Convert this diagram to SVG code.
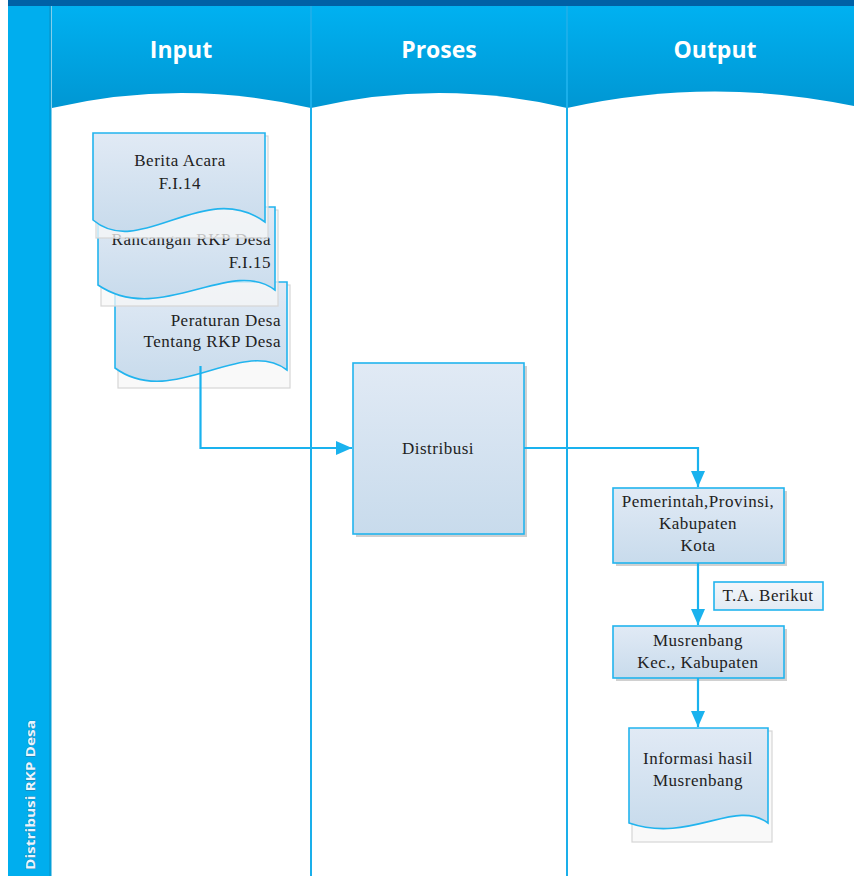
<svg xmlns="http://www.w3.org/2000/svg" width="854" height="876" viewBox="0 0 854 876">
  <defs>
    <linearGradient id="hdr" x1="0" y1="0" x2="0" y2="1">
      <stop offset="0" stop-color="#00b1f1"/>
      <stop offset="1" stop-color="#0096d2"/>
    </linearGradient>
    <linearGradient id="fill" x1="0" y1="0" x2="0" y2="1">
      <stop offset="0" stop-color="#e1eaf5"/>
      <stop offset="1" stop-color="#c8dbec"/>
    </linearGradient>
    <linearGradient id="lbl" x1="0" y1="0" x2="0" y2="1">
      <stop offset="0" stop-color="#f3f6fa"/>
      <stop offset="1" stop-color="#e2ebf4"/>
    </linearGradient>
    <marker id="arr" markerUnits="userSpaceOnUse" markerWidth="16" markerHeight="16" viewBox="0 0 16 16" refX="16" refY="8" orient="auto">
      <path d="M0,1 L16,8 L0,15 Z" fill="#1ab2ee"/>
    </marker>
  </defs>
  <style>
    .shape{fill:url(#fill);stroke:#22b4ee;stroke-width:1.6}
    .shadow{fill:#f7f7f7;fill-opacity:0.75;stroke:#d6d6d6;stroke-width:1.2}
    .t{font-family:"Liberation Serif","Times New Roman",serif;font-size:17px;letter-spacing:0.5px;fill:#222}
    .h{font-family:"Open Sans","DejaVu Sans",sans-serif;font-size:23px;font-weight:bold;fill:#ffffff;text-anchor:middle}
    .c{fill:none;stroke:#1ab2ee;stroke-width:2.2}
  </style>

  <!-- background / swimlanes -->
  <rect x="0" y="0" width="854" height="876" fill="#ffffff"/>
  <g id="lanes">
    <rect x="8" y="0" width="846" height="6" fill="#0061a6"/>
    <rect x="8" y="6" width="43" height="870" fill="#00aeee"/>
    <rect x="49" y="6" width="2.5" height="870" fill="#049fd9"/>
    <rect x="52" y="6" width="802" height="104" fill="url(#hdr)"/>
    <path d="M52,111 L52,108 Q181,78 311,108 L311,111 Z" fill="#ffffff"/>
    <path d="M311,111 L311,108 Q439,78 567,108 L567,111 Z" fill="#ffffff"/>
    <path d="M567,111 L567,108 Q715,75 863,108 L863,111 Z" fill="#ffffff"/>
    <rect x="52" y="110" width="802" height="766" fill="#ffffff"/>
    <line x1="311" y1="6" x2="311" y2="876" stroke="#1aafea" stroke-width="2"/>
    <line x1="567" y1="6" x2="567" y2="876" stroke="#1aafea" stroke-width="2"/>
    <text class="h" x="181" y="58">Input</text>
    <text class="h" x="439" y="58">Proses</text>
    <text class="h" x="715" y="58">Output</text>
    <text transform="translate(35,870) rotate(-90)" textLength="150" lengthAdjust="spacingAndGlyphs" font-family="Open Sans, DejaVu Sans, sans-serif" font-size="13" font-weight="bold" fill="#e8f6ff" stroke="#2a6f9c" stroke-width="0.5" paint-order="stroke">Distribusi RKP Desa</text>
  </g>

  <!-- Documents in Input lane -->
  <g id="doc-peraturan">
    <rect class="shadow" x="118" y="285" width="172" height="103"/>
    <path class="shape" d="M115,282 H287 V370 C242,336 172,410 115,368 Z"/>
    <text class="t" x="281" y="326" text-anchor="end">Peraturan Desa</text>
    <text class="t" x="281" y="347" text-anchor="end">Tentang RKP Desa</text>
  </g>

  <g id="doc-rancangan">
    <rect class="shadow" x="101" y="210" width="177" height="96"/>
    <path class="shape" d="M98,207 H275 V290 C230,256 160,327 98,285 Z"/>
    <text class="t" x="271" y="245" text-anchor="end">Rancangan RKP Desa</text>
    <text class="t" x="271" y="268" text-anchor="end">F.I.15</text>
  </g>

  <g id="doc-berita">
    <rect class="shadow" x="96" y="136" width="172" height="102"/>
    <path class="shape" d="M93,133 H265 V222 C205,178 140,260 93,220 Z"/>
    <text class="t" x="180" y="166" text-anchor="middle">Berita Acara</text>
    <text class="t" x="180" y="189" text-anchor="middle">F.I.14</text>
  </g>

  <!-- Proses -->
  <g id="distribusi">
    <rect x="356" y="366" width="171" height="171" fill="#d0d0d0"/>
    <rect class="shape" x="353" y="363" width="171" height="171"/>
    <text class="t" x="438" y="454" text-anchor="middle">Distribusi</text>
  </g>

  <!-- Output -->
  <g id="pemerintah">
    <rect x="616" y="491" width="171" height="75" fill="#d0d0d0"/>
    <rect class="shape" x="613" y="488" width="171" height="75"/>
    <text class="t" x="698" y="507" text-anchor="middle">Pemerintah,Provinsi,</text>
    <text class="t" x="698" y="529" text-anchor="middle">Kabupaten</text>
    <text class="t" x="698" y="551" text-anchor="middle">Kota</text>
  </g>

  <g id="ta-berikut">
    <rect x="714" y="582" width="109" height="28" fill="url(#lbl)" stroke="#22b4ee" stroke-width="1.6"/>
    <text class="t" x="768" y="601" text-anchor="middle">T.A. Berikut</text>
  </g>

  <g id="musrenbang">
    <rect x="616" y="629" width="171" height="52" fill="#d0d0d0"/>
    <rect class="shape" x="613" y="626" width="171" height="52"/>
    <text class="t" x="698" y="646" text-anchor="middle">Musrenbang</text>
    <text class="t" x="698" y="668" text-anchor="middle">Kec., Kabupaten</text>
  </g>

  <g id="informasi">
    <rect class="shadow" x="632" y="731" width="140" height="111"/>
    <path class="shape" d="M629,728 H768 V823 C735,798 690,844 629,823 Z"/>
    <text class="t" x="698" y="764" text-anchor="middle">Informasi hasil</text>
    <text class="t" x="698" y="786" text-anchor="middle">Musrenbang</text>
  </g>

  <!-- connectors -->
  <g id="connectors">
    <path class="c" d="M200.5,366 V448 H352" marker-end="url(#arr)"/>
    <path class="c" d="M524,448 H698 V487" marker-end="url(#arr)"/>
    <path class="c" d="M698,563 V625" marker-end="url(#arr)"/>
    <path class="c" d="M698,678 V727" marker-end="url(#arr)"/>
  </g>
</svg>
